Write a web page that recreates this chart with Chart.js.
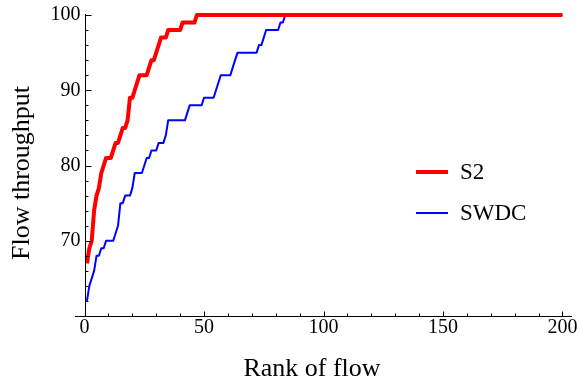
<!DOCTYPE html>
<html>
<head>
<meta charset="utf-8">
<script src="https://cdn.jsdelivr.net/npm/chart.js@4.4.1/dist/chart.umd.min.js"></script>
<style>
  html, body { margin: 0; padding: 0; background: #fff; }
  #wrap { width: 578px; height: 386px; }
</style>
</head>
<body>
<div id="wrap"><canvas id="flowChart"></canvas></div>
<script>
// rank of flow, 1..200
const ranks = [];
for (let i = 1; i <= 200; i++) ranks.push(i);

// S2 throughput by rank, padded with 100 afterwards
const s2Head = [67, 69, 70, 74, 76, 77, 79, 80, 81, 81,
                81, 82, 83, 83, 84, 85, 85, 86, 89, 89,
                90, 91, 92, 92, 92, 92, 93, 94, 94, 95,
                96, 97, 97, 97, 98, 98, 98, 98, 98, 98,
                99, 99, 99, 99, 99, 99, 100];
// SWDC throughput by rank
const swdcHead = [62, 64, 65, 66, 68, 68, 69, 69, 70, 70,
                  70, 70, 71, 72, 75, 75, 76, 76, 76, 77,
                  79, 79, 79, 79, 80, 81, 81, 82, 82, 82,
                  83, 83, 83, 84, 86, 86, 86, 86, 86, 86,
                  86, 86, 87, 88, 88, 88, 88, 88, 88, 89,
                  89, 89, 89, 89, 90, 91, 92, 92, 92, 92,
                  92, 93, 94, 95, 95, 95, 95, 95, 95, 95,
                  95, 95, 96, 96, 97, 98, 98, 98, 98, 98,
                  98, 99, 99, 100];

const s2 = ranks.map((r, i) => i < s2Head.length ? s2Head[i] : 100);
const swdc = ranks.map((r, i) => i < swdcHead.length ? swdcHead[i] : 100);

const seriesNames = ['S2', 'SWDC'];
const xMajor = [0, 50, 100, 150, 200];
const yMajor = [70, 80, 90, 100];

const serif = '"Liberation Serif", "DejaVu Serif", serif';

// axes, ticks, titles and legend in the Mathematica style
const axesPlugin = {
  id: 'mmaAxes',
  afterDraw(chart) {
    const ctx = chart.ctx;
    const xs = chart.scales.x, ys = chart.scales.y;
    const area = chart.chartArea;
    const x0 = Math.round(xs.getPixelForValue(0)) + 0.5;
    const yb = Math.round(ys.getPixelForValue(60)) + 0.5;
    ctx.save();
    ctx.strokeStyle = '#000';
    ctx.lineWidth = 1;
    ctx.beginPath();
    ctx.moveTo(area.left, yb); ctx.lineTo(area.right, yb);
    ctx.moveTo(x0, yb); ctx.lineTo(x0, ys.getPixelForValue(100) - 1);
    // x ticks every 10, major every 50
    for (let v = 0; v <= 200; v += 10) {
      const px = Math.round(xs.getPixelForValue(v)) + 0.5;
      const len = v % 50 === 0 ? 5 : 3;
      ctx.moveTo(px, yb); ctx.lineTo(px, yb - len);
    }
    // y ticks every 2, major every 10
    for (let v = 60; v <= 100; v += 2) {
      const py = Math.round(ys.getPixelForValue(v)) + 0.5;
      const len = v % 10 === 0 ? 6 : 3;
      ctx.moveTo(x0, py); ctx.lineTo(x0 + len, py);
    }
    ctx.stroke();

    ctx.fillStyle = '#000';
    ctx.font = '20px ' + serif;
    ctx.textAlign = 'center';
    ctx.textBaseline = 'middle';
    xMajor.forEach(v => ctx.fillText(String(v), xs.getPixelForValue(v), 328));
    ctx.textAlign = 'right';
    yMajor.forEach(v => ctx.fillText(String(v), x0 - 5, ys.getPixelForValue(v)));

    ctx.font = '26px ' + serif;
    ctx.textAlign = 'center';
    ctx.fillText('Rank of flow', 312, 369);
    ctx.save();
    ctx.translate(22, 173);
    ctx.rotate(-Math.PI / 2);
    ctx.fillText('Flow throughput', 0, 0);
    ctx.restore();

    // legend
    ctx.font = '23px ' + serif;
    ctx.textAlign = 'left';
    chart.data.datasets.forEach((ds, i) => {
      const ly = 172 + i * 41;
      ctx.strokeStyle = ds.borderColor;
      ctx.lineWidth = ds.borderWidth;
      ctx.beginPath();
      ctx.moveTo(416, ly); ctx.lineTo(448, ly);
      ctx.stroke();
      ctx.fillText(ds.label, 460, ly + 1);
    });
    ctx.restore();
  }
};

new Chart(document.getElementById('flowChart'), {
  type: 'line',
  data: {
    labels: ranks,
    datasets: [{
      label: seriesNames[0],
      data: ranks.map((r, i) => ({ x: r, y: s2[i] })),
      borderColor: '#ff0000',
      borderWidth: 4,
      pointRadius: 0,
      tension: 0,
      clip: false,
      borderJoinStyle: 'round'
    }, {
      label: seriesNames[1],
      data: ranks.map((r, i) => ({ x: r, y: swdc[i] })),
      borderColor: '#0000ff',
      borderWidth: 2,
      pointRadius: 0,
      tension: 0,
      clip: false,
      borderJoinStyle: 'round'
    }]
  },
  options: {
    responsive: true,
    maintainAspectRatio: false,
    animation: false,
    layout: { padding: { left: 75, right: 6, top: 15, bottom: 70 } },
    plugins: { legend: { display: false }, tooltip: { enabled: false } },
    scales: {
      x: { type: 'linear', min: -4, max: 204, display: false },
      y: { min: 60, max: 100, display: false }
    }
  },
  plugins: [axesPlugin]
});
</script>
</body>
</html>
